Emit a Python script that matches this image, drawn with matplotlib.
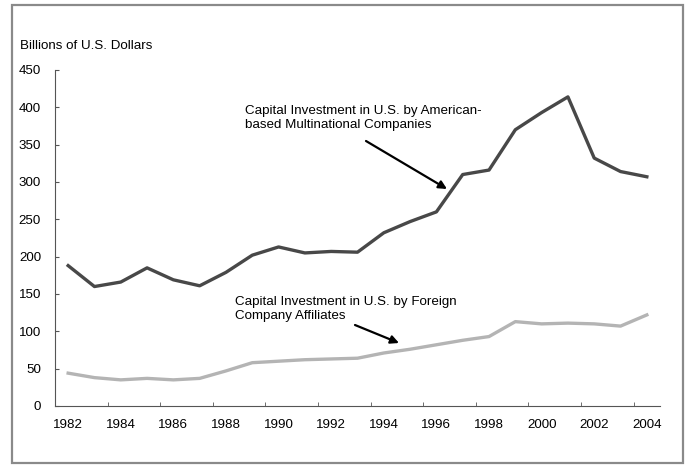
import matplotlib.pyplot as plt
from matplotlib.patches import Rectangle

plt.rcParams['font.family'] = ['Liberation Sans', 'DejaVu Sans']

years = list(range(1982, 2005))
american = [188, 160, 166, 185, 169, 161, 179, 202, 213, 205, 207, 206,
            232, 247, 260, 310, 316, 370, 393, 414, 332, 314, 307]
foreign = [44, 38, 35, 37, 35, 37, 47, 58, 60, 62, 63, 64,
           71, 76, 82, 88, 93, 113, 110, 111, 110, 107, 122]
tick_years = years[::2]

W, H = 686, 466
fs = 9.6

fig = plt.figure(figsize=(W / 100, H / 100), dpi=100)
ax = fig.add_axes([55 / W, 60 / H, 605 / W, 336 / H])

x = list(range(len(years)))
ax.plot(x, american, color='#484848', lw=2.4, solid_joinstyle='round')
ax.plot(x, foreign, color='#b4b4b4', lw=2.4, solid_joinstyle='round')

ax.set_xlim(-0.5, len(years) - 0.5)
ax.set_ylim(0, 450)
ax.set_yticks(range(0, 451, 50))
ax.set_xticks(x[::2])
ax.set_xticklabels([str(y) for y in tick_years])
ax.set_xticks([i + 1.5 for i in range(0, len(years) - 1, 2)], minor=True)
ax.tick_params(axis='x', which='major', length=0, pad=9, labelsize=fs)
ax.tick_params(axis='x', which='minor', length=3, direction='in', color='#555555')
ax.tick_params(axis='y', length=3, direction='in', pad=10, labelsize=fs, color='#555555')

for s in ['top', 'right']:
    ax.spines[s].set_visible(False)
for s in ['left', 'bottom']:
    ax.spines[s].set_color('#555555')
    ax.spines[s].set_linewidth(0.8)

fig.text(20 / W, 1 - 46 / H, 'Billions of U.S. Dollars', fontsize=fs, va='center')

# positions in pixels from the top-left
def px(a, b):
    return (a, H - b)

fig.text(245 / W, 1 - 118 / H,
         'Capital Investment in U.S. by American-\nbased Multinational Companies',
         fontsize=fs, va='center', ha='left')
fig.text(235 / W, 1 - 309 / H,
         'Capital Investment in U.S. by Foreign\nCompany Affiliates',
         fontsize=fs, va='center', ha='left')

arrow = dict(arrowstyle='-|>', color='black', lw=1.6, shrinkA=0, shrinkB=0,
             mutation_scale=12)
ax.annotate('', xy=px(447, 189), xycoords='figure pixels',
            xytext=px(366, 141), textcoords='figure pixels', arrowprops=arrow)
ax.annotate('', xy=px(399, 343), xycoords='figure pixels',
            xytext=px(355, 325), textcoords='figure pixels', arrowprops=arrow)

fig.patches.append(Rectangle((12 / W, 3 / H), 671 / W, 458 / H,
                             transform=fig.transFigure, fill=False,
                             edgecolor='#8a8a8a', lw=1.6))

fig.savefig('out.png', dpi=100)
